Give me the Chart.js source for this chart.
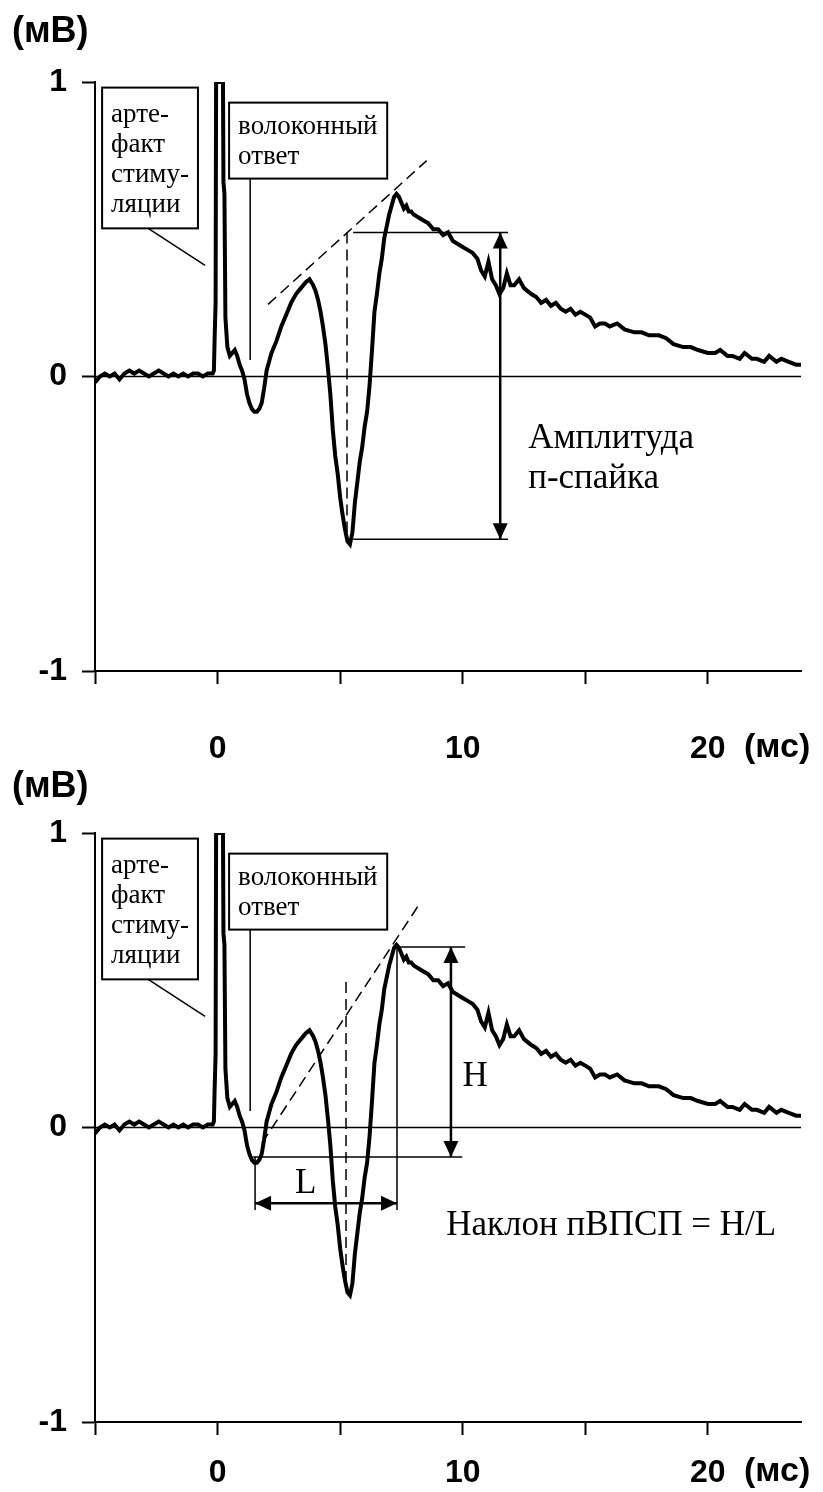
<!DOCTYPE html>
<html>
<head>
<meta charset="utf-8">
<script src="https://cdn.jsdelivr.net/npm/chart.js@4.4.0/dist/chart.umd.min.js"></script>
<style>
  html, body { margin: 0; padding: 0; background: #fff; }
  canvas { display: block; }
</style>
</head>
<body>
<canvas id="top" width="823" height="765"></canvas>
<canvas id="bottom" width="823" height="727"></canvas>
<script>
// ---- данные: полевой потенциал, время (мс) / амплитуда (мВ) ----
const timeMs = [
  -5.0, -4.8, -4.6, -4.4, -4.2, -4.0, -3.8, -3.6, -3.4, -3.2, -3.0, -2.8, -2.6, -2.4, -2.2, -2.0,
  -1.8, -1.6, -1.4, -1.2, -1.0, -0.8, -0.6, -0.4, -0.2, -0.15, -0.12, -0.08, -0.06, 0.22, 0.24, 0.28,
  0.32, 0.40, 0.50, 0.60, 0.70, 0.80, 0.90, 1.00, 1.10, 1.20, 1.30, 1.40, 1.50, 1.60, 1.70, 1.80,
  1.90, 2.00, 2.10, 2.20, 2.40, 2.60, 2.80, 3.00, 3.20, 3.40, 3.60, 3.75, 3.90, 4.00, 4.10, 4.20,
  4.30, 4.40, 4.50, 4.60, 4.70, 4.80, 4.90, 5.00, 5.10, 5.20, 5.30, 5.40, 5.50, 5.60, 5.70, 5.80,
  5.90, 6.00, 6.10, 6.20, 6.30, 6.40, 6.50, 6.60, 6.70, 6.80, 6.90, 7.00, 7.10, 7.20, 7.30, 7.40,
  7.50, 7.60, 7.70, 7.80, 7.90, 8.00, 8.20, 8.40, 8.60, 8.80, 9.00, 9.20, 9.40, 9.60, 9.80, 10.0,
  10.2, 10.4, 10.6, 10.75, 10.9, 11.05, 11.2, 11.35, 11.5, 11.65, 11.8, 11.95, 12.1, 12.3, 12.5, 12.8,
  13.0, 13.2, 13.4, 13.6, 13.8, 14.0, 14.2, 14.4, 14.6, 14.8, 15.0, 15.2, 15.4, 15.6, 15.8, 16.0,
  16.3, 16.6, 17.0, 17.3, 17.6, 18.0, 18.3, 18.6, 19.0, 19.3, 19.6, 20.0, 20.3, 20.5, 20.8, 21.0,
  21.3, 21.5, 21.8, 22.0, 22.3, 22.5, 22.8, 23.0, 23.3, 23.6, 23.8
];
const traceMv = [
  -0.02, 0.00, 0.01, 0.00, 0.01, -0.01, 0.01, 0.02, 0.01, 0.02, 0.01, 0.00, 0.01, 0.02, 0.01, 0.00,
  0.01, 0.00, 0.01, 0.00, 0.01, 0.01, 0.00, 0.01, 0.01, 0.02, 0.13, 0.25, 1.00, 1.00, 0.66, 0.62,
  0.20, 0.10, 0.07, 0.08, 0.09, 0.07, 0.04, 0.02, -0.01, -0.06, -0.09, -0.11, -0.12, -0.12, -0.11, -0.09,
  -0.04, 0.02, 0.05, 0.08, 0.12, 0.17, 0.21, 0.25, 0.28, 0.30, 0.32, 0.33, 0.31, 0.29, 0.26, 0.22,
  0.17, 0.11, 0.03, -0.06, -0.18, -0.27, -0.33, -0.41, -0.47, -0.52, -0.56, -0.57, -0.53, -0.43, -0.36, -0.29,
  -0.24, -0.17, -0.12, -0.03, 0.09, 0.22, 0.28, 0.35, 0.40, 0.47, 0.51, 0.55, 0.58, 0.61, 0.62, 0.61,
  0.59, 0.57, 0.58, 0.56, 0.56, 0.55, 0.54, 0.53, 0.52, 0.50, 0.50, 0.48, 0.49, 0.46, 0.45, 0.44,
  0.43, 0.42, 0.40, 0.36, 0.34, 0.39, 0.33, 0.31, 0.28, 0.30, 0.35, 0.31, 0.31, 0.33, 0.30, 0.28,
  0.27, 0.25, 0.26, 0.24, 0.25, 0.23, 0.22, 0.23, 0.21, 0.22, 0.21, 0.20, 0.17, 0.18, 0.18, 0.17,
  0.18, 0.16, 0.15, 0.15, 0.14, 0.14, 0.13, 0.11, 0.10, 0.10, 0.09, 0.08, 0.08, 0.09, 0.07, 0.07,
  0.06, 0.08, 0.06, 0.06, 0.05, 0.07, 0.05, 0.06, 0.05, 0.04, 0.04
];
const xRange = [-5, 23.8];
const yRange = [-1, 1];
const xTickLabels = [0, 10, 20];
const yTicks = [-1, 0, 1];

// подписи
const artefactLines = ['арте-', 'факт', 'стиму-', 'ляции'];
const fibreLines = ['волоконный', 'ответ'];
const ampLines = ['Амплитуда', 'п-спайка'];
const slopeText = 'Наклон пВПСП = H/L';

// вспомогательные линии (мс, мВ)
const zeroLine = [[-5, 0], [23.8, 0]];
const artefactLeader = [[-2.83, 0.503], [-0.51, 0.377]];
const fibreLeader = [[1.33, 0.672], [1.33, 0.056]];
// верхняя панель
const tangentA = [[2.06, 0.245], [8.53, 0.733]];
const dropA = [[5.28, 0.489], [5.28, -0.55]];
const upperA = [[5.53, 0.489], [11.85, 0.489]];
const lowerA = [[5.53, -0.553], [11.85, -0.553]];
const ampArrow = [[11.53, 0.489], [11.53, -0.553]];
// нижняя панель
const tangentB = [[1.81, -0.053], [8.26, 0.762]];
const dropB = [[5.24, 0.494], [5.24, -0.55]];
const peakLevelB = [[7.32, 0.613], [10.1, 0.613]];
const troughLevelB = [[1.45, -0.100], [9.98, -0.100]];
const hArrow = [[9.52, 0.613], [9.52, -0.100]];
const lArrow = [[1.53, -0.257], [7.32, -0.257]];
const peakDropB = [[7.32, 0.613], [7.32, -0.28]];
const troughDropB = [[1.53, -0.100], [1.53, -0.28]];

const SANS = '"Liberation Sans", Arial, sans-serif';
const SERIF = '"Liberation Serif", "Times New Roman", serif';
const DASH = [11, 6];

function lineSet(pts, width, dash) {
  return {
    data: pts.map(p => ({ x: p[0], y: p[1] })),
    borderColor: '#000', borderWidth: width, borderDash: dash || [],
    pointRadius: 0, fill: false, tension: 0
  };
}

function arrowHead(ctx, x, y, dir) {
  const len = 16, half = 7.5;
  ctx.beginPath();
  ctx.moveTo(x, y);
  if (dir === 'up') { ctx.lineTo(x - half, y + len); ctx.lineTo(x + half, y + len); }
  if (dir === 'down') { ctx.lineTo(x - half, y - len); ctx.lineTo(x + half, y - len); }
  if (dir === 'left') { ctx.lineTo(x + len, y - half); ctx.lineTo(x + len, y + half); }
  if (dir === 'right') { ctx.lineTo(x - len, y - half); ctx.lineTo(x - len, y + half); }
  ctx.closePath();
  ctx.fill();
}

// рамки, подписи, наконечники стрелок
function overlay(panel) {
  return {
    id: 'overlay',
    afterDatasetsDraw(chart) {
      const { ctx, scales: { x, y } } = chart;
      const px = v => x.getPixelForValue(v), py = v => y.getPixelForValue(v);
      ctx.save();
      const boxes = [
        { x0: -4.71, y0: 0.981, x1: -0.80, y1: 0.503, lines: artefactLines, first: 34 },
        { x0: 0.47, y0: 0.930, x1: 6.92, y1: 0.672, lines: fibreLines, first: 31 }
      ];
      boxes.forEach(b => {
        const l = px(b.x0), t = py(b.y0), r = px(b.x1), bt = py(b.y1);
        ctx.fillStyle = '#fff';
        ctx.fillRect(l, t, r - l, bt - t);
        ctx.strokeStyle = '#000';
        ctx.lineWidth = 2;
        ctx.strokeRect(l, t, r - l, bt - t);
        ctx.fillStyle = '#000';
        ctx.font = '27px ' + SERIF;
        ctx.textBaseline = 'alphabetic';
        ctx.textAlign = 'left';
        b.lines.forEach((s, i) => ctx.fillText(s, l + 9, t + b.first + i * 30));
      });
      ctx.fillStyle = '#000';
      panel.arrows.forEach(a => arrowHead(ctx, px(a[0]), py(a[1]), a[2]));
      ctx.font = '35px ' + SERIF;
      panel.texts.forEach(t => ctx.fillText(t[0], px(t[1]), py(t[2])));
      ctx.restore();
    },
    afterDraw(chart) {
      const { ctx, chartArea } = chart;
      ctx.save();
      ctx.fillStyle = '#000';
      ctx.font = 'bold 36px ' + SANS;
      ctx.textBaseline = 'middle';
      ctx.textAlign = 'left';
      ctx.fillText('(мВ)', 12, chartArea.top + panel.unitY);
      ctx.font = 'bold 34px ' + SANS;
      ctx.fillText('(мс)', 744, chartArea.bottom + panel.labelDrop);
      ctx.restore();
    }
  };
}

function makeChart(id, panel) {
  const datasets = [{
    data: timeMs.map((t, i) => ({ x: t, y: traceMv[i] })),
    borderColor: '#000', borderWidth: 4, pointRadius: 0, fill: false, tension: 0
  }].concat(panel.lines.map(l => lineSet(l[0], l[1], l[2])));

  return new Chart(document.getElementById(id), {
    type: 'line',
    data: { datasets },
    options: {
      responsive: false, animation: false, devicePixelRatio: 1,
      layout: { padding: { left: 0, right: 22, top: panel.padTop, bottom: 0 } },
      plugins: { legend: { display: false }, tooltip: { enabled: false } },
      scales: {
        x: {
          type: 'linear', min: xRange[0], max: xRange[1],
          afterFit: s => { s.height = panel.xHeight; },
          border: { color: '#000', width: 2 },
          grid: { drawOnChartArea: false, tickLength: 13, tickColor: '#000', tickWidth: 2 },
          ticks: {
            stepSize: 5, includeBounds: false, maxRotation: 0, autoSkip: false,
            padding: panel.labelDrop - 31,
            color: '#000', font: { family: SANS, size: 32, weight: 'bold' },
            callback: v => xTickLabels.includes(v) ? String(v) : ''
          }
        },
        y: {
          min: yRange[0], max: yRange[1],
          afterFit: s => { s.width = 95; },
          afterBuildTicks: s => { s.ticks = yTicks.map(v => ({ value: v })); },
          border: { color: '#000', width: 2 },
          grid: { drawOnChartArea: false, tickLength: 13, tickColor: '#000', tickWidth: 2 },
          ticks: { padding: 15, color: '#000', font: { family: SANS, size: 32, weight: 'bold' } }
        }
      }
    },
    plugins: [overlay(panel)]
  });
}

makeChart('top', {
  padTop: 82, xHeight: 94, unitY: -50, labelDrop: 77,
  lines: [
    [zeroLine, 1.5], [artefactLeader, 1.5], [fibreLeader, 1.5],
    [tangentA, 1.5, DASH], [dropA, 1.5, DASH], [upperA, 1.5], [lowerA, 1.5], [ampArrow, 2.5]
  ],
  arrows: [[11.53, 0.489, 'up'], [11.53, -0.553, 'down']],
  texts: [[ampLines[0], 12.67, -0.244], [ampLines[1], 12.67, -0.380]]
});

makeChart('bottom', {
  padTop: 68, xHeight: 70, unitY: -46, labelDrop: 50,
  lines: [
    [zeroLine, 1.5], [artefactLeader, 1.5], [fibreLeader, 1.5],
    [tangentB, 1.5, DASH], [dropB, 1.5, DASH], [peakLevelB, 1.5], [troughLevelB, 1.5],
    [peakDropB, 1.5], [troughDropB, 1.5], [hArrow, 2.5], [lArrow, 2.5]
  ],
  arrows: [[9.52, 0.613, 'up'], [9.52, -0.100, 'down'], [1.53, -0.257, 'left'], [7.32, -0.257, 'right']],
  texts: [['H', 9.99, 0.141], ['L', 3.16, -0.222], [slopeText, 9.33, -0.365]]
});
</script>
</body>
</html>
